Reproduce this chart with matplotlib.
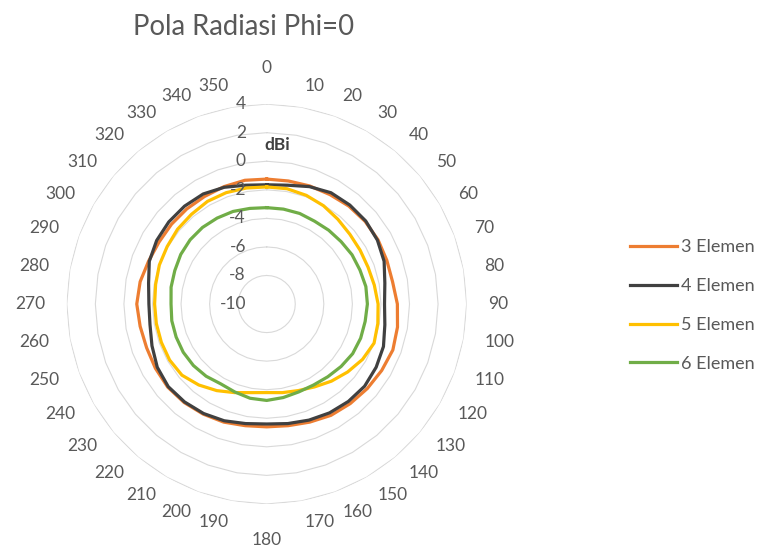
import numpy as np
import matplotlib.pyplot as plt

plt.rcParams['font.family'] = ['Lato', 'DejaVu Sans']

# sudut (derajat) dan gain (dBi) tiap jumlah elemen
angles = list(range(0, 360, 10))
gain_3 = [-1.25, -1.25, -1.2, -1.15, -1.05, -1.0, -1.0, -1.05, -1.05, -0.85,
          -0.7, -0.6, -0.7, -0.8, -0.9, -1.0, -1.2, -1.35, -1.4, -1.35,
          -1.2, -1.1, -1.0, -0.95, -1.0, -1.05, -1.0, -0.9, -1.0, -1.2,
          -1.3, -1.3, -1.3, -1.3, -1.25, -1.2]
gain_4 = [-1.65, -1.55, -1.25, -1.0, -0.95, -0.95, -1.05, -1.25, -1.6, -1.75,
          -1.6, -1.3, -1.15, -1.05, -1.1, -1.2, -1.35, -1.5, -1.6, -1.5,
          -1.3, -1.15, -1.05, -1.0, -1.15, -1.45, -1.7, -1.75, -1.6, -1.25,
          -1.1, -1.05, -1.05, -1.1, -1.3, -1.55]
gain_5 = [-1.8, -1.8, -1.9, -2.05, -2.25, -2.4, -2.45, -2.45, -2.35, -2.2,
          -2.1, -2.0, -2.25, -2.6, -2.95, -3.3, -3.55, -3.7, -3.8, -3.7,
          -3.4, -3.0, -2.6, -2.25, -2.15, -2.15, -2.15, -2.15, -2.1, -2.0,
          -1.95, -1.85, -1.8, -1.7, -1.7, -1.75]
gain_6 = [-3.25, -3.25, -3.25, -3.3, -3.25, -3.2, -3.1, -3.05, -2.95, -2.95,
          -3.0, -3.0, -3.05, -3.2, -3.35, -3.45, -3.45, -3.35, -3.25, -3.3,
          -3.45, -3.55, -3.4, -3.3, -3.25, -3.25, -3.25, -3.3, -3.2, -3.15,
          -3.05, -3.0, -3.0, -3.05, -3.1, -3.2]
series_names = ['3 Elemen', '4 Elemen', '5 Elemen', '6 Elemen']
series_colors = ['#ED7D31', '#404040', '#FFC000', '#70AD47']
r_ticks = list(range(-10, 5, 2))

txt = '#595959'
fig = plt.figure(figsize=(7.59, 5.5), dpi=100)
ax = fig.add_axes([0.0879, 0.0837, 0.527, 0.727], projection='polar')
ax.set_theta_zero_location('N')
ax.set_theta_direction(-1)
ax.set_ylim(-10, 4)
ax.grid(False)
ax.set_xticks([])
ax.set_yticks([])
ax.spines['polar'].set_visible(False)
ax.patch.set_alpha(0)

th = np.deg2rad(angles + [angles[0]])
# gridline segi-36 seperti radar Excel
for lv in r_ticks[1:]:
    ax.plot(th, [lv] * len(th), color='#D9D9D9', lw=0.8, zorder=1)

for g, name, c in zip([gain_3, gain_4, gain_5, gain_6], series_names, series_colors):
    ax.plot(th, g + [g[0]], color=c, lw=2.3, label=name, zorder=3,
            solid_joinstyle='round')

for v in r_ticks:
    ax.annotate(str(v), xy=(0, v), xytext=(-15, 0), textcoords='offset points',
                ha='right', va='center', fontsize=12.5, color=txt, zorder=4)

for a in angles:
    if a in (0, 180):
        r, ha = 6.52, 'center'
    elif a < 180:
        r, ha = 5.47, 'left'
    else:
        r, ha = 5.47, 'right'
    ax.text(np.deg2rad(a), r, str(a), ha=ha, va='center', fontsize=12.5,
            color=txt, clip_on=False)

fig.text(277.5 / 759, 1 - 145 / 550, 'dBi', ha='center', va='center',
         fontsize=12.5, color='#404040', fontweight='bold')
fig.text(133 / 759, 1 - 35 / 550, 'Pola Radiasi Phi=0', ha='left', va='baseline',
         fontsize=19.8, color=txt)

leg = fig.legend(loc='upper left', bbox_to_anchor=(630 / 759, 1 - 239 / 550),
                 frameon=False, fontsize=13, handlelength=2.6, handletextpad=0.2,
                 labelspacing=1.27, borderpad=0, borderaxespad=0)
for t in leg.get_texts():
    t.set_color(txt)

fig.savefig('out.png', dpi=100)
